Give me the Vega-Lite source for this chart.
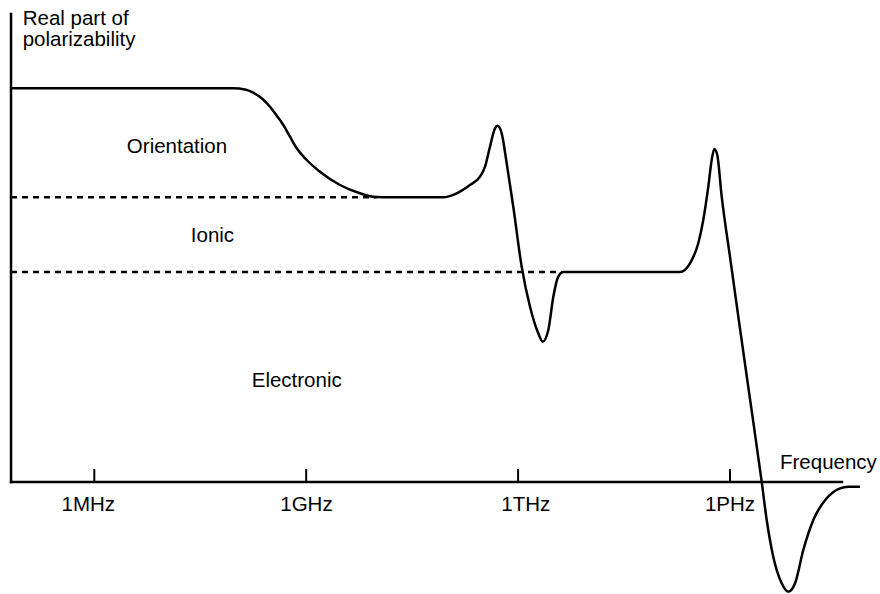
{
  "$schema": "https://vega.github.io/schema/vega-lite/v6.json",
  "width": 880,
  "height": 594,
  "padding": 0,
  "autosize": {"type": "none"},
  "background": "white",
  "config": {"view": {"stroke": null}},
  "datasets": {
    "curve": [
      {"log10_freq": 4.821, "polarizability": 3.937},
      {"log10_freq": 7.968, "polarizability": 3.937},
      {"log10_freq": 8.134, "polarizability": 3.925},
      {"log10_freq": 8.251, "polarizability": 3.893},
      {"log10_freq": 8.374, "polarizability": 3.835},
      {"log10_freq": 8.488, "polarizability": 3.753},
      {"log10_freq": 8.587, "polarizability": 3.66},
      {"log10_freq": 8.676, "polarizability": 3.57},
      {"log10_freq": 8.771, "polarizability": 3.453},
      {"log10_freq": 8.866, "polarizability": 3.337},
      {"log10_freq": 9.007, "polarizability": 3.22},
      {"log10_freq": 9.195, "polarizability": 3.103},
      {"log10_freq": 9.479, "polarizability": 2.97},
      {"log10_freq": 9.762, "polarizability": 2.887},
      {"log10_freq": 9.998, "polarizability": 2.849},
      {"log10_freq": 10.2, "polarizability": 2.847},
      {"log10_freq": 10.937, "polarizability": 2.847},
      {"log10_freq": 11.131, "polarizability": 2.887},
      {"log10_freq": 11.319, "polarizability": 2.97},
      {"log10_freq": 11.461, "polarizability": 3.053},
      {"log10_freq": 11.532, "polarizability": 3.153},
      {"log10_freq": 11.602, "polarizability": 3.353},
      {"log10_freq": 11.673, "polarizability": 3.537},
      {"log10_freq": 11.711, "polarizability": 3.563},
      {"log10_freq": 11.768, "polarizability": 3.487},
      {"log10_freq": 11.839, "polarizability": 3.187},
      {"log10_freq": 11.932, "polarizability": 2.753},
      {"log10_freq": 12.051, "polarizability": 2.153},
      {"log10_freq": 12.169, "polarizability": 1.753},
      {"log10_freq": 12.286, "polarizability": 1.487},
      {"log10_freq": 12.349, "polarizability": 1.403},
      {"log10_freq": 12.428, "polarizability": 1.52},
      {"log10_freq": 12.499, "polarizability": 1.853},
      {"log10_freq": 12.569, "polarizability": 2.053},
      {"log10_freq": 12.64, "polarizability": 2.1},
      {"log10_freq": 14.292, "polarizability": 2.1},
      {"log10_freq": 14.434, "polarizability": 2.187},
      {"log10_freq": 14.551, "polarizability": 2.387},
      {"log10_freq": 14.622, "polarizability": 2.62},
      {"log10_freq": 14.693, "polarizability": 2.953},
      {"log10_freq": 14.741, "polarizability": 3.22},
      {"log10_freq": 14.778, "polarizability": 3.33},
      {"log10_freq": 14.82, "polarizability": 3.27},
      {"log10_freq": 14.883, "polarizability": 2.853},
      {"log10_freq": 15.0, "polarizability": 2.253},
      {"log10_freq": 15.118, "polarizability": 1.653},
      {"log10_freq": 15.245, "polarizability": 1.02},
      {"log10_freq": 15.449, "polarizability": 0.003},
      {"log10_freq": 15.52, "polarizability": -0.38},
      {"log10_freq": 15.613, "polarizability": -0.747},
      {"log10_freq": 15.732, "polarizability": -1.013},
      {"log10_freq": 15.826, "polarizability": -1.097},
      {"log10_freq": 15.921, "polarizability": -1.013},
      {"log10_freq": 16.038, "polarizability": -0.68},
      {"log10_freq": 16.18, "polarizability": -0.38},
      {"log10_freq": 16.369, "polarizability": -0.163},
      {"log10_freq": 16.558, "polarizability": -0.063},
      {"log10_freq": 16.675, "polarizability": -0.047},
      {"log10_freq": 16.841, "polarizability": -0.047}
    ],
    "levels": [
      {"name": "Ionic", "x_start": 4.821, "x_end": 10.0, "level": 2.847},
      {"name": "Electronic", "x_start": 4.821, "x_end": 12.62, "level": 2.1}
    ],
    "axes": [
      {"axis": "y", "x_start": 4.821, "x_end": 4.821, "y_start": 0, "y_end": 4.68},
      {"axis": "x", "x_start": 4.821, "x_end": 16.586, "y_start": 0, "y_end": 0}
    ],
    "ticks": [
      {"log10_freq": 6, "label": "1MHz", "label_x": 5.915},
      {"log10_freq": 9, "label": "1GHz", "label_x": 9.004},
      {"log10_freq": 12, "label": "1THz", "label_x": 12.109},
      {"log10_freq": 15, "label": "1PHz", "label_x": 15.0}
    ],
    "labels": [
      {"text": "Orientation", "x": 7.171, "y": 3.287},
      {"text": "Ionic", "x": 7.673, "y": 2.403},
      {"text": "Electronic", "x": 8.866, "y": 0.953}
    ],
    "titles": [
      {"text": "Real part of\npolarizability", "x": 4.986, "y": 4.567},
      {"text": "Frequency", "x": 15.708, "y": 0.13}
    ]
  },
  "layer": [
    {
      "data": {"name": "levels"},
      "mark": {"type": "rule", "color": "black", "strokeWidth": 2.5, "strokeDash": [6, 5]},
      "encoding": {
        "x": {"field": "x_start", "type": "quantitative", "scale": {"domain": [4.665, 17.124], "nice": false, "zero": false}, "axis": null},
        "x2": {"field": "x_end"},
        "y": {"field": "level", "type": "quantitative", "scale": {"domain": [-1.12, 4.82], "nice": false, "zero": false}, "axis": null}
      }
    },
    {
      "data": {"name": "axes"},
      "mark": {"type": "rule", "color": "black", "strokeWidth": 2.5, "strokeCap": "square"},
      "encoding": {
        "x": {"field": "x_start", "type": "quantitative"},
        "x2": {"field": "x_end"},
        "y": {"field": "y_start", "type": "quantitative"},
        "y2": {"field": "y_end"}
      }
    },
    {
      "data": {"name": "ticks"},
      "mark": {"type": "rule", "color": "black", "strokeWidth": 2},
      "encoding": {
        "x": {"field": "log10_freq", "type": "quantitative"},
        "y": {"datum": 0, "type": "quantitative"},
        "y2": {"datum": 0.13}
      }
    },
    {
      "data": {"name": "ticks"},
      "mark": {"type": "text", "font": "Liberation Sans", "fontSize": 20.5, "baseline": "alphabetic", "align": "center", "color": "black"},
      "encoding": {
        "x": {"field": "label_x", "type": "quantitative"},
        "y": {"datum": -0.29, "type": "quantitative"},
        "text": {"field": "label"}
      }
    },
    {
      "data": {"name": "curve"},
      "mark": {"type": "line", "color": "black", "strokeWidth": 2.5, "interpolate": "monotone"},
      "encoding": {
        "x": {"field": "log10_freq", "type": "quantitative"},
        "y": {"field": "polarizability", "type": "quantitative"}
      }
    },
    {
      "data": {"name": "labels"},
      "mark": {"type": "text", "font": "Liberation Sans", "fontSize": 20.5, "baseline": "alphabetic", "align": "center", "color": "black"},
      "encoding": {
        "x": {"field": "x", "type": "quantitative"},
        "y": {"field": "y", "type": "quantitative"},
        "text": {"field": "text"}
      }
    },
    {
      "data": {"name": "titles"},
      "mark": {"type": "text", "font": "Liberation Sans", "fontSize": 20.5, "baseline": "alphabetic", "align": "left", "color": "black", "lineBreak": "\n", "lineHeight": 21},
      "encoding": {
        "x": {"field": "x", "type": "quantitative"},
        "y": {"field": "y", "type": "quantitative"},
        "text": {"field": "text"}
      }
    }
  ]
}
